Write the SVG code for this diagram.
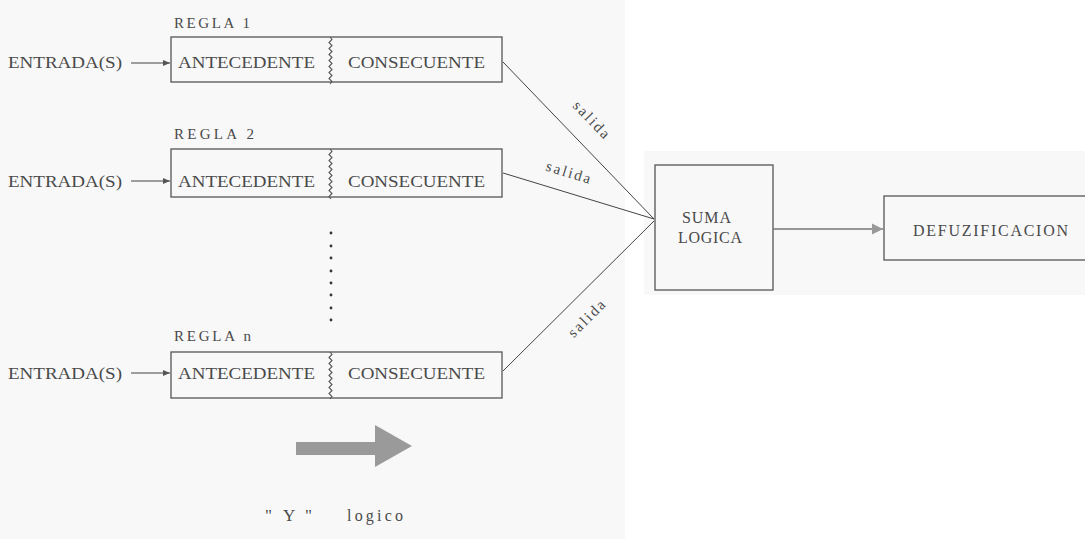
<svg xmlns="http://www.w3.org/2000/svg" width="1085" height="539" viewBox="0 0 1085 539">
<defs>
<style>
.t{font-family:"Liberation Serif","DejaVu Serif",serif;fill:#4a4a4a}
.big{font-size:17px}
.sm{font-size:15px}
.md{font-size:16px}
.box{fill:none;stroke:#555;stroke-width:1.3}
.ln{fill:none;stroke:#444;stroke-width:1}
.zz{fill:none;stroke:#555;stroke-width:1.1}
</style>
<marker id="ah" markerWidth="8" markerHeight="8" refX="7" refY="4" orient="auto" markerUnits="userSpaceOnUse">
<path d="M0,1 L7,4 L0,7 Z" fill="#555"/>
</marker>
<marker id="ahg" markerWidth="12" markerHeight="12" refX="11" refY="6" orient="auto" markerUnits="userSpaceOnUse">
<path d="M0,0.5 L11,6 L0,11.5 Z" fill="#999"/>
</marker>
</defs>
<rect x="0" y="0" width="1085" height="539" fill="#ffffff"/>
<rect x="0" y="0" width="625" height="539" fill="#f8f8f8"/>
<rect x="644" y="151" width="441" height="144" fill="#f8f8f8"/>

<g id="regla1">
<text class="t sm" x="174" y="28" textLength="76" lengthAdjust="spacing">REGLA 1</text>
<rect class="box" x="171" y="37" width="331" height="45"/>
<path class="zz" d="M330,37 l2,2.5 l-3,3 l3,3 l-3,3 l3,3 l-3,3 l3,3 l-3,3 l3,3 l-3,3 l3,3 l-3,3 l3,3 l-3,3 l3,3 l-2,2.5"/>
<text class="t big" x="178" y="68" textLength="137" lengthAdjust="spacingAndGlyphs">ANTECEDENTE</text>
<text class="t big" x="348" y="68" textLength="137" lengthAdjust="spacingAndGlyphs">CONSECUENTE</text>
</g>
<g id="regla2">
<text class="t sm" x="174" y="139" textLength="80" lengthAdjust="spacing">REGLA 2</text>
<rect class="box" x="171" y="149" width="331" height="48"/>
<path class="zz" d="M330,149 l2,2.5 l-3,3 l3,3 l-3,3 l3,3 l-3,3 l3,3 l-3,3 l3,3 l-3,3 l3,3 l-3,3 l3,3 l-3,3 l3,3 l-3,3 l2,2.5"/>
<text class="t big" x="178" y="187" textLength="137" lengthAdjust="spacingAndGlyphs">ANTECEDENTE</text>
<text class="t big" x="348" y="187" textLength="137" lengthAdjust="spacingAndGlyphs">CONSECUENTE</text>
</g>
<g id="reglan">
<text class="t sm" x="174" y="341" textLength="77" lengthAdjust="spacing">REGLA n</text>
<rect class="box" x="171" y="352" width="331" height="46"/>
<path class="zz" d="M330,352 l2,2.5 l-3,3 l3,3 l-3,3 l3,3 l-3,3 l3,3 l-3,3 l3,3 l-3,3 l3,3 l-3,3 l3,3 l-3,3 l3,3 l-2,2.5"/>
<text class="t big" x="178" y="379" textLength="137" lengthAdjust="spacingAndGlyphs">ANTECEDENTE</text>
<text class="t big" x="348" y="379" textLength="137" lengthAdjust="spacingAndGlyphs">CONSECUENTE</text>
</g>

<g id="entradas">
<text class="t big" x="8" y="68" textLength="114" lengthAdjust="spacingAndGlyphs">ENTRADA(S)</text>
<text class="t big" x="8" y="187" textLength="114" lengthAdjust="spacingAndGlyphs">ENTRADA(S)</text>
<text class="t big" x="8" y="379" textLength="114" lengthAdjust="spacingAndGlyphs">ENTRADA(S)</text>
</g>

<g id="dots" fill="#333">
<circle cx="331" cy="233" r="1.4"/>
<circle cx="331" cy="246" r="1.4"/>
<circle cx="331" cy="258" r="1.4"/>
<circle cx="331" cy="271" r="1.4"/>
<circle cx="331" cy="283" r="1.4"/>
<circle cx="331" cy="295" r="1.4"/>
<circle cx="331" cy="308" r="1.4"/>
<circle cx="331" cy="320" r="1.4"/>
</g>

<g id="suma">
<rect class="box" x="655" y="165" width="118" height="125"/>
<text class="t md" x="682" y="223" textLength="49" lengthAdjust="spacing">SUMA</text>
<text class="t md" x="678" y="243" textLength="64" lengthAdjust="spacing">LOGICA</text>
</g>

<g id="defuz">
<rect class="box" x="884" y="196" width="210" height="64"/>
<text class="t md" x="913" y="236" textLength="155" lengthAdjust="spacing">DEFUZIFICACION</text>
</g>

<g id="connectors">
<line class="ln" x1="131" y1="63" x2="170" y2="63" marker-end="url(#ah)"/>
<line class="ln" x1="131" y1="181" x2="170" y2="181" marker-end="url(#ah)"/>
<line class="ln" x1="131" y1="373" x2="170" y2="373" marker-end="url(#ah)"/>
<line class="ln" x1="503" y1="62" x2="654" y2="219"/>
<line class="ln" x1="503" y1="173" x2="654" y2="219"/>
<line class="ln" x1="503" y1="371" x2="654" y2="221"/>
<line x1="773" y1="229" x2="883" y2="229" stroke="#777" stroke-width="1.5" marker-end="url(#ahg)"/>
<text class="t sm" transform="translate(588,123) rotate(46)" text-anchor="middle" textLength="46" lengthAdjust="spacing">salida</text>
<text class="t sm" transform="translate(567,177) rotate(17)" text-anchor="middle" textLength="46" lengthAdjust="spacing">salida</text>
<text class="t sm" transform="translate(590,322) rotate(-45)" text-anchor="middle" textLength="46" lengthAdjust="spacing">salida</text>
</g>

<g id="yarrow">
<path d="M296,442 L375,442 L375,425 L412,446 L375,467 L375,455 L296,455 Z" fill="#9a9a9a"/>
<text class="t big" x="265" y="521">"</text>
<text class="t big" x="283" y="521">Y</text>
<text class="t big" x="305" y="521">"</text>
<text class="t md" x="347" y="521" textLength="56" lengthAdjust="spacing">logico</text>
</g>
</svg>
